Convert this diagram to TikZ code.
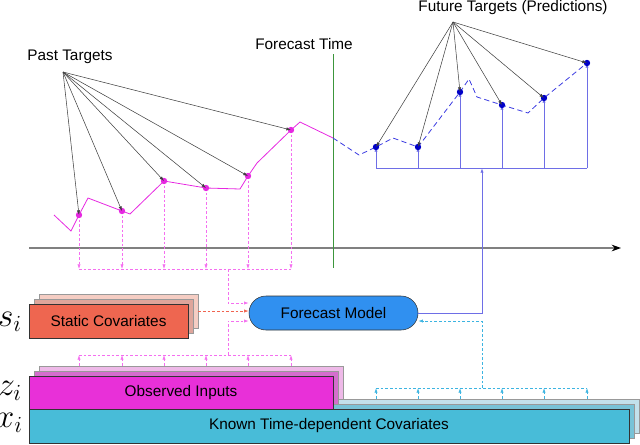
\documentclass[tikz,border=0pt]{standalone}
\usepackage{fontspec}
\setmainfont{Liberation Sans}
\usepackage{amsmath}
\usepackage{tikz}
\usetikzlibrary{arrows.meta,
    positioning}

\definecolor{pastcol}{RGB}{230,40,225}
\definecolor{pastdash}{RGB}{245,110,240}
\definecolor{futcol}{RGB}{60,60,225}
\definecolor{futline}{RGB}{110,110,230}
\definecolor{dotblue}{RGB}{0,0,200}
\definecolor{statcol}{RGB}{238,102,80}
\definecolor{statsh}{RGB}{222,165,155}
\definecolor{statsh2}{RGB}{245,205,195}
\definecolor{modelcol}{RGB}{48,144,240}
\definecolor{obscol}{RGB}{232,48,216}
\definecolor{obssh}{RGB}{212,110,205}
\definecolor{obssh2}{RGB}{238,185,232}
\definecolor{knowncol}{RGB}{72,188,216}
\definecolor{knownsh}{RGB}{120,195,215}
\definecolor{knownsh2}{RGB}{195,225,235}
\definecolor{cyandash}{RGB}{60,180,225}
\definecolor{statdash}{RGB}{240,100,80}
\definecolor{axiscol}{RGB}{128,128,128}
\definecolor{fcgreen}{RGB}{60,150,60}

\tikzset{
    lbl/.style={font=\fontsize{11.5}{13}\selectfont, inner sep=1pt},
    mlbl/.style={font=\fontsize{23}{26}\selectfont, inner sep=0pt, anchor=east},
    tip/.style={-{Latex[length=3.5pt,width=2.4pt]}},
    ptr/.style={tip, draw=black!75, line width=0.4pt},
    pdash/.style={pastdash, dash pattern=on 2pt off 1.5pt, line width=0.5pt},
    cdash/.style={cyandash, dash pattern=on 2pt off 1.5pt, line width=0.5pt},
    slab/.style={draw=black!80, inner sep=0pt, font=\fontsize{11.5}{13}\selectfont},
    shad/.style={draw=black!40, inner sep=0pt},
    pdot/.style={circle, fill=pastcol, inner sep=0pt, minimum size=4.8pt},
    fdot/.style={circle, fill=dotblue, inner sep=0pt, minimum size=4.8pt}
}

\begin{document}
\begin{tikzpicture}[x=0.75pt,y=-0.75pt]
    \useasboundingbox (0,0) rectangle (640,444);

    % time axis and forecast time
    \draw[axiscol, line width=0.8pt, -{Stealth[length=7pt,width=5pt,color=black]}] (29,248) -- (621,248);
    \draw[fcgreen, line width=0.6pt] (333,54) -- (333,268);
    \node[lbl] (fctime) at (304,44) {Forecast Time};

    % past targets
    \coordinate (p1) at (79,215);
    \coordinate (p2) at (122,211);
    \coordinate (p3) at (164,181);
    \coordinate (p4) at (206,188);
    \coordinate (p5) at (248,176);
    \coordinate (p6) at (291,130);
    \coordinate (now) at (333,138);
    \draw[pastcol, line width=0.6pt] (54,215) -- (71,231) -- (p1) -- (88,198) -- (p2) -- (130,214)
        -- (p3) -- (p4) -- (240,189) -- (p5) -- (257,163) -- (p6) -- (300,122) -- (now);

    % future targets
    \coordinate (f1) at (376,147);
    \coordinate (f2) at (418,147);
    \coordinate (f3) at (460,92);
    \coordinate (f4) at (502,105);
    \coordinate (f5) at (544,98);
    \coordinate (f6) at (587,63);
    \draw[futcol, line width=0.6pt, dash pattern=on 4pt off 2.5pt] (now) -- (359,155) -- (f1) -- (393,138)
        -- (f2) -- (f3) -- (469,79) -- (477,97) -- (f4) -- (528,113) -- (f5) -- (f6);

    % bus lines
    \coordinate (pbus) at (0,269);
    \coordinate (zbus) at (0,355);
    \coordinate (fbus) at (0,168);
    \coordinate (xbus) at (0,388);

    \foreach \i in {1,...,6} {
        \draw[pdash, tip] (p\i) -- (p\i |- pbus);
        \draw[pdash, tip] (p\i |- 0,366) -- (p\i |- zbus);
        \draw[futline, line width=0.6pt, tip] (f\i |- fbus) -- (f\i);
        \draw[cdash, tip] (f\i |- 0,399) -- (f\i |- xbus);
    }
    \draw[pdash] (p1 |- pbus) -- (p6 |- pbus);
    \draw[pdash] (p1 |- zbus) -- (p6 |- zbus);
    \draw[futline, line width=0.6pt] (f1 |- fbus) -- (f6 |- fbus);
    \draw[cdash] (f1 |- xbus) -- (f6 |- xbus);

    \foreach \i in {1,...,6} {
        \node[pdot] at (p\i) {};
        \node[fdot] at (f\i) {};
    }

    % pointers from labels
    \node[lbl] (pastlbl) at (70,57) {Past Targets};
    \coordinate (pastsrc) at (63,72);
    \node[lbl] (futlbl) at (513,8) {Future Targets (Predictions)};
    \coordinate (futsrc) at (453,22);
    \foreach \i in {1,...,6} {
        \draw[ptr] (pastsrc) -- (p\i);
        \draw[ptr] (futsrc) -- (f\i);
    }

    % forecast model
    \node[draw=black!80, fill=modelcol, rounded corners=12.7pt, minimum width=126.75pt,
        minimum height=25.5pt, inner sep=0pt, font=\fontsize{11.5}{13}\selectfont] (model) at (333.5,313) {Forecast Model};

    % static covariates
    \node[shad, fill=statsh2, minimum width=119.25pt, minimum height=25.5pt] (stat3) at (118.5,311) {};
    \node[shad, fill=statsh, minimum width=119.25pt, minimum height=25.5pt] (stat2) at (113.5,316) {};
    \node[slab, fill=statcol, minimum width=119.25pt, minimum height=25.5pt] (stat) at (108.5,321) {Static Covariates};
    \node[mlbl] (slbl) at (22,322) {$s_i$};

    % known time-dependent covariates (shadows)
    \node[shad, fill=knownsh2, minimum width=450pt, minimum height=25.5pt] (known3) at (339,416) {};
    \node[shad, fill=knownsh, minimum width=450pt, minimum height=25.5pt] (known2) at (334,421) {};

    % observed inputs
    \node[shad, fill=obssh2, minimum width=228pt, minimum height=24.75pt] (obs3) at (191,382.5) {};
    \node[shad, fill=obssh, minimum width=228pt, minimum height=24.75pt] (obs2) at (186,387.5) {};
    \node[slab, fill=obscol, minimum width=228pt, minimum height=24.75pt] (obs) at (181,392.5) {Observed Inputs};
    \node[mlbl] (zlbl) at (22,391) {$z_i$};

    \node[slab, fill=knowncol, minimum width=450pt, minimum height=25.5pt] (known) at (329,426) {Known Time-dependent Covariates};
    \node[mlbl] (xlbl) at (23,423) {$x_i$};

    % into the model
    \draw[pdash, tip] (228,269) |- ([yshift=7.5pt]model.west);
    \draw[pdash, tip] (228,355) |- ([yshift=-6pt]model.west);
    \draw[statdash, dash pattern=on 2pt off 1.5pt, line width=0.5pt, tip] (stat3.east) -- (stat3.east -| model.west);
    \draw[cdash, tip] (482,388) |- ([yshift=-6pt]model.east);
    \draw[futline, line width=0.6pt, tip] (model.east) -| (482,168);
\end{tikzpicture}
\end{document}
